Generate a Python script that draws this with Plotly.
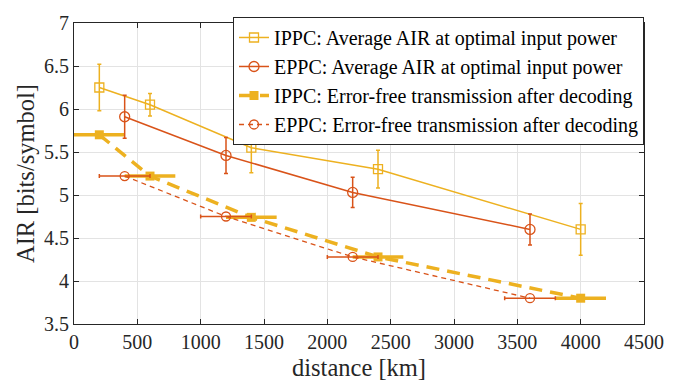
import plotly.graph_objects as go

# ---- data ----
ippc_x = [200, 600, 1400, 2400, 4000]
ippc_air = [6.25, 6.05, 5.55, 5.30, 4.60]
ippc_air_err = [0.27, 0.13, 0.29, 0.22, 0.30]

eppc_x = [400, 1200, 2200, 3600]
eppc_air = [5.91, 5.46, 5.03, 4.60]
eppc_air_err = [0.25, 0.21, 0.175, 0.18]

ippc_ef_x = [200, 600, 1400, 2400, 4000]
ippc_ef = [5.70, 5.22, 4.74, 4.28, 3.80]
ippc_ef_xerr = [200, 200, 200, 200, 200]

eppc_ef_x = [400, 1200, 2200, 3600]
eppc_ef = [5.22, 4.75, 4.28, 3.80]
eppc_ef_xerr = [200, 200, 200, 200]

names = [
    "IPPC: Average AIR at optimal input power",
    "EPPC: Average AIR at optimal input power",
    "IPPC: Error-free transmission after decoding",
    "EPPC: Error-free transmission after decoding",
]
x_ticks = [0, 500, 1000, 1500, 2000, 2500, 3000, 3500, 4000, 4500]
y_ticks = [3.5, 4, 4.5, 5, 5.5, 6, 6.5, 7]

YEL = "#EDB120"
RED = "#D95319"
FONT = "Times New Roman, Liberation Serif, serif"

fig = go.Figure()

fig.add_trace(go.Scatter(
    x=ippc_ef_x, y=ippc_ef, name=names[2], mode="lines+markers",
    line=dict(color=YEL, width=3.5, dash="13px,8px"),
    marker=dict(symbol="square", size=9, color=YEL),
    error_x=dict(type="data", array=ippc_ef_xerr, color=YEL, thickness=3.5, width=0),
    legendrank=3,
))
fig.add_trace(go.Scatter(
    x=eppc_ef_x, y=eppc_ef, name=names[3], mode="lines+markers",
    line=dict(color=RED, width=1.3, dash="5px,4px"),
    marker=dict(symbol="circle-open", size=9, color=RED, line=dict(width=1.3)),
    error_x=dict(type="data", array=eppc_ef_xerr, color=RED, thickness=1.5, width=2),
    legendrank=4,
))
fig.add_trace(go.Scatter(
    x=ippc_x, y=ippc_air, name=names[0], mode="lines+markers",
    line=dict(color=YEL, width=1.5),
    marker=dict(symbol="square-open", size=9, color=YEL, line=dict(width=1.3)),
    error_y=dict(type="data", array=ippc_air_err, color=YEL, thickness=1.5, width=2),
    legendrank=1,
))
fig.add_trace(go.Scatter(
    x=eppc_x, y=eppc_air, name=names[1], mode="lines+markers",
    line=dict(color=RED, width=1.5),
    marker=dict(symbol="circle-open", size=10, color=RED, line=dict(width=1.3)),
    error_y=dict(type="data", array=eppc_air_err, color=RED, thickness=1.5, width=2),
    legendrank=2,
))

axis_common = dict(
    showgrid=True, gridcolor="#e3e3e3", gridwidth=1,
    showline=True, linecolor="#262626", linewidth=1, mirror="ticks",
    ticks="inside", ticklen=5, tickcolor="#262626",
    tickfont=dict(family=FONT, size=20, color="#262626"),
    zeroline=False,
)

fig.update_layout(
    width=676, height=388,
    margin=dict(l=74, r=32, t=16, b=64),
    paper_bgcolor="white", plot_bgcolor="white",
    font=dict(family=FONT, color="#262626"),
    xaxis=dict(axis_common, range=[0, 4500], tickvals=x_ticks,
               title=dict(text="distance [km]", font=dict(family=FONT, size=24.5), standoff=6)),
    yaxis=dict(axis_common, range=[3.5, 7], tickvals=y_ticks,
               title=dict(text="AIR [bits/symbol]", font=dict(family=FONT, size=24.5), standoff=2)),
    legend=dict(
        x=1.0, y=1.02, xanchor="right", yanchor="top",
        bgcolor="white", bordercolor="#262626", borderwidth=1,
        font=dict(family=FONT, size=20, color="black"),
        tracegroupgap=0, itemwidth=30,
    ),
    showlegend=True,
)

fig.write_html("out.html")
